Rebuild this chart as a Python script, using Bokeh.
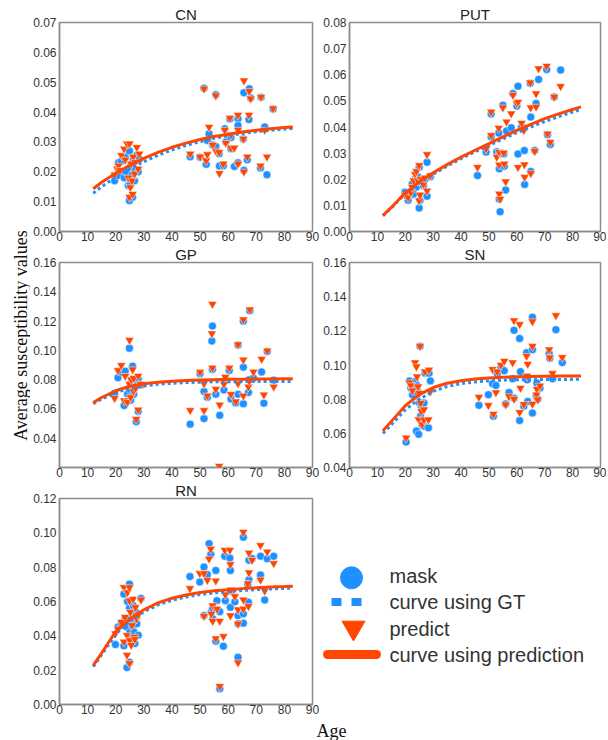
from math import pi
from bokeh.plotting import figure
from bokeh.models import Range1d, FixedTicker, PrintfTickFormatter, Label
from bokeh.layouts import row, column
from bokeh.core.properties import value
from bokeh.embed import file_html
from bokeh.resources import INLINE

BLUE = "#1E90FF"
RED = "#FF4500"
FRAME = "#8c8c8c"
TXT = "#333333"

# ---------------- data ----------------
fit_age = [12, 15, 20, 25, 30, 35, 40, 45, 50, 55, 60, 65, 70, 75, 80, 83]

cn_age = [19.6, 20.5, 21.0, 21.5, 22.0, 23.0, 23.4, 24.0, 24.5, 24.9, 24.9, 25.2, 25.5, 25.8, 26.0, 26.2, 26.7, 27.0, 27.5, 28.4, 28.0,
          46.5, 50.0, 51.4, 52.2, 52.6, 53.2, 54.5, 55.6, 55.6, 56.9, 56.8, 58.3, 58.8, 59.2, 60.6, 61.0, 61.0, 62.2, 63.5, 63.5, 63.5,
          65.4, 65.6, 65.6, 66.8, 67.4, 67.5, 68.0, 71.7, 71.5, 73.0, 73.8, 76.0]
cn_mask = [0.0170, 0.0187, 0.0230, 0.0200, 0.0235, 0.0180, 0.0250, 0.0200, 0.0154, 0.0104, 0.0270, 0.0160, 0.0220, 0.0190, 0.0115, 0.0240, 0.0170, 0.0205, 0.0255, 0.0243, 0.0200,
           0.0250, 0.0249, 0.0480, 0.0225, 0.0305, 0.0327, 0.0290, 0.0458, 0.0285, 0.0219, 0.0260, 0.0220, 0.0344, 0.0300, 0.0377, 0.0315, 0.0277, 0.0218, 0.0378, 0.0355, 0.0230,
           0.0310, 0.0465, 0.0205, 0.0240, 0.0375, 0.0478, 0.0447, 0.0450, 0.0213, 0.0350, 0.0190, 0.0410]
cn_pred = [0.0190, 0.0210, 0.0220, 0.0205, 0.0255, 0.0277, 0.0240, 0.0294, 0.0180, 0.0115, 0.0294, 0.0148, 0.0227, 0.0170, 0.0125, 0.0250, 0.0193, 0.0232, 0.0282, 0.0260, 0.0210,
           0.0260, 0.0250, 0.0478, 0.0238, 0.0258, 0.0350, 0.0290, 0.0455, 0.0270, 0.0195, 0.0265, 0.0227, 0.0340, 0.0296, 0.0380, 0.0324, 0.0280, 0.0280, 0.0390, 0.0340, 0.0227,
           0.0310, 0.0505, 0.0200, 0.0250, 0.0390, 0.0470, 0.0445, 0.0450, 0.0220, 0.0340, 0.0250, 0.0412]
cn_fit_gt = [0.0128, 0.0150, 0.0182, 0.0210, 0.0234, 0.0255, 0.0273, 0.0288, 0.0301, 0.0312, 0.0321, 0.0328, 0.0334, 0.0339, 0.0343, 0.0345]
cn_fit_pred = [0.0143, 0.0165, 0.0195, 0.0222, 0.0245, 0.0265, 0.0282, 0.0296, 0.0308, 0.0318, 0.0326, 0.0333, 0.0339, 0.0344, 0.0348, 0.0350]

put_age = [19.9, 21.0, 22.0, 22.5, 23.0, 23.5, 24.0, 24.5, 25.0, 25.0, 25.3, 25.5, 26.0, 26.5, 27.0, 27.8, 27.8, 29.0,
           45.9, 49.0, 50.8, 50.8, 52.8, 53.5, 53.7, 53.7, 53.7, 54.0, 55.0, 55.3, 55.5, 56.0, 56.3, 58.0, 58.6, 60.0, 60.4, 60.4,
           61.7, 62.5, 62.7, 62.8, 64.8, 65.0, 65.0, 66.4, 66.9, 66.9, 67.8, 70.7, 71.0, 72.0, 73.4, 75.7]
put_mask = [0.0150, 0.0120, 0.0140, 0.0182, 0.0144, 0.0200, 0.0170, 0.0210, 0.0246, 0.0090, 0.0120, 0.0188, 0.0195, 0.0175, 0.0200, 0.0265, 0.0135, 0.0210,
            0.0214, 0.0304, 0.0450, 0.0362, 0.0305, 0.0377, 0.0297, 0.0240, 0.0124, 0.0076, 0.0483, 0.0297, 0.0250, 0.0159, 0.0385, 0.0397, 0.0528, 0.0480, 0.0556, 0.0297,
            0.0400, 0.0395, 0.0310, 0.0180, 0.0567, 0.0438, 0.0230, 0.0310, 0.0487, 0.0490, 0.0582, 0.0620, 0.0370, 0.0333, 0.0515, 0.0618]
put_pred = [0.0140, 0.0130, 0.0150, 0.0170, 0.0195, 0.0220, 0.0230, 0.0195, 0.0253, 0.0118, 0.0140, 0.0200, 0.0190, 0.0180, 0.0205, 0.0295, 0.0156, 0.0214,
            0.0246, 0.0317, 0.0458, 0.0368, 0.0285, 0.0396, 0.0304, 0.0255, 0.0144, 0.0124, 0.0474, 0.0301, 0.0259, 0.0191, 0.0420, 0.0451, 0.0522, 0.0490, 0.0495, 0.0246,
            0.0415, 0.0387, 0.0256, 0.0208, 0.0570, 0.0474, 0.0223, 0.0307, 0.0477, 0.0528, 0.0624, 0.0633, 0.0374, 0.0342, 0.0515, 0.0556]
put_fit_gt = [0.0060, 0.0090, 0.0145, 0.0186, 0.0220, 0.0250, 0.0279, 0.0305, 0.0330, 0.0354, 0.0378, 0.0400, 0.0421, 0.0440, 0.0457, 0.0467]
put_fit_pred = [0.0062, 0.0092, 0.0148, 0.0190, 0.0225, 0.0256, 0.0285, 0.0311, 0.0336, 0.0362, 0.0387, 0.0410, 0.0432, 0.0450, 0.0467, 0.0477]

gp_age = [19.6, 20.8, 22.0, 23.0, 23.4, 24.2, 24.9, 24.9, 25.3, 25.5, 26.0, 26.4, 26.4, 27.0, 27.3, 28.0, 28.0, 29.0,
          46.5, 50.0, 51.4, 51.4, 52.6, 54.4, 54.2, 54.4, 55.6, 57.0, 56.8, 58.5, 59.0, 60.4, 61.0, 62.7, 63.5, 63.5,
          65.4, 65.4, 65.4, 67.2, 67.7, 67.5, 69.0, 71.9, 72.7, 73.9, 76.2]
gp_mask = [0.0706, 0.0813, 0.0850, 0.0623, 0.0858, 0.0702, 0.1015, 0.0735, 0.0660, 0.0780, 0.0892, 0.0796, 0.0700, 0.0750, 0.0512, 0.0583, 0.0803, 0.0764,
           0.0496, 0.0840, 0.0719, 0.0534, 0.0679, 0.1166, 0.1064, 0.0870, 0.0700, 0.0556, 0.0180, 0.0729, 0.0796, 0.0863, 0.0668, 0.0640, 0.0700, 0.1037,
           0.1198, 0.0885, 0.0635, 0.0713, 0.1270, 0.0800, 0.0810, 0.0853, 0.0639, 0.0992, 0.0796]
gp_pred = [0.0673, 0.0863, 0.0898, 0.0657, 0.0824, 0.0646, 0.1070, 0.0769, 0.0680, 0.0800, 0.0869, 0.0810, 0.0720, 0.0740, 0.0530, 0.0594, 0.0825, 0.0770,
           0.0590, 0.0851, 0.0773, 0.0590, 0.0690, 0.1316, 0.1115, 0.0880, 0.0735, 0.0628, 0.0210, 0.0770, 0.0818, 0.0880, 0.0700, 0.0650, 0.0773, 0.1040,
           0.1210, 0.0936, 0.0690, 0.0751, 0.1278, 0.0790, 0.0853, 0.0940, 0.0697, 0.0997, 0.0751]
gp_fit_gt = [0.0635, 0.0668, 0.0712, 0.0740, 0.0757, 0.0768, 0.0775, 0.0780, 0.0783, 0.0785, 0.0786, 0.0787, 0.0787, 0.0788, 0.0788, 0.0788]
gp_fit_pred = [0.0643, 0.0678, 0.0724, 0.0755, 0.0772, 0.0782, 0.0789, 0.0794, 0.0798, 0.0800, 0.0802, 0.0803, 0.0804, 0.0805, 0.0806, 0.0806]

sn_age = [20.3, 21.5, 22.0, 22.6, 23.5, 24.0, 24.2, 24.6, 24.8, 25.0, 25.3, 25.5, 25.8, 26.0, 26.7, 26.7, 27.1, 28.3, 28.5, 29.0,
          46.4, 49.8, 51.3, 51.6, 52.5, 53.0, 54.3, 55.5, 56.0, 57.2, 58.5, 59.0, 59.0, 61.0, 61.3, 61.0, 62.5, 63.5, 63.7, 63.9,
          65.6, 65.6, 65.6, 67.2, 67.0, 67.5, 68.3, 71.6, 71.8, 72.8, 74.0, 76.3]
sn_mask = [0.0549, 0.0907, 0.0865, 0.0826, 0.0903, 0.0613, 0.0880, 0.0840, 0.0594, 0.0780, 0.1110, 0.0700, 0.0760, 0.0650, 0.0777, 0.0642, 0.0952, 0.0632, 0.0952, 0.0907,
           0.0764, 0.0826, 0.0890, 0.0700, 0.0880, 0.0950, 0.0985, 0.0967, 0.0772, 0.0839, 0.0920, 0.1203, 0.0806, 0.1155, 0.0961, 0.0675, 0.0758, 0.1072, 0.0913, 0.0787,
           0.1280, 0.1090, 0.0719, 0.0894, 0.0816, 0.0800, 0.0865, 0.1068, 0.1040, 0.0920, 0.1207, 0.1014]
sn_pred = [0.0574, 0.0897, 0.0880, 0.0850, 0.1014, 0.0990, 0.0932, 0.0874, 0.0680, 0.0835, 0.1110, 0.0777, 0.0729, 0.0652, 0.0739, 0.0680, 0.0961, 0.0680, 0.0971, 0.0845,
           0.0812, 0.0764, 0.0975, 0.0713, 0.0839, 0.0961, 0.1000, 0.1023, 0.0768, 0.0816, 0.1014, 0.1260, 0.0801, 0.1238, 0.0865, 0.0723, 0.0770, 0.1052, 0.0936, 0.1006,
           0.1255, 0.1110, 0.0772, 0.0859, 0.0826, 0.0797, 0.0878, 0.1090, 0.1043, 0.0951, 0.1290, 0.1045]
sn_fit_gt = [0.0600, 0.0650, 0.0738, 0.0800, 0.0845, 0.0874, 0.0891, 0.0901, 0.0907, 0.0911, 0.0913, 0.0914, 0.0915, 0.0915, 0.0916, 0.0916]
sn_fit_pred = [0.0615, 0.0670, 0.0762, 0.0826, 0.0868, 0.0893, 0.0908, 0.0918, 0.0924, 0.0928, 0.0931, 0.0933, 0.0934, 0.0935, 0.0935, 0.0935]

rn_age = [19.9, 20.8, 22.0, 22.9, 22.9, 23.3, 24.0, 24.0, 24.2, 24.9, 24.9, 24.9, 25.0, 25.2, 25.5, 25.8, 26.2, 26.5, 26.8, 27.0, 27.5, 28.0, 29.0,
          46.4, 49.9, 51.4, 51.4, 52.6, 53.2, 53.8, 54.0, 54.5, 54.5, 55.6, 55.6, 56.0, 57.0, 57.0, 58.3, 58.8, 59.0, 60.6, 60.8, 60.8, 61.0,
          62.4, 63.5, 63.5, 63.5, 65.4, 65.4, 65.4, 67.2, 67.4, 67.4, 67.0, 68.5, 71.5, 71.5, 73.0, 73.9, 76.2]
rn_mask = [0.0349, 0.0451, 0.0470, 0.0643, 0.0342, 0.0499, 0.0215, 0.0451, 0.0600, 0.0701, 0.0246, 0.0560, 0.0420, 0.0500, 0.0380, 0.0460, 0.0576, 0.0422, 0.0355, 0.0540, 0.0470, 0.0403, 0.0618,
           0.0745, 0.0714, 0.0801, 0.0518, 0.0758, 0.0937, 0.0874, 0.0538, 0.0560, 0.0500, 0.0781, 0.0369, 0.0605, 0.0541, 0.0092, 0.0340, 0.0864, 0.0605, 0.0854, 0.0781, 0.0566, 0.0660,
           0.0599, 0.0518, 0.0470, 0.0275, 0.0975, 0.0474, 0.0528, 0.0595, 0.0841, 0.0726, 0.0700, 0.0850, 0.0864, 0.0755, 0.0609, 0.0849, 0.0864]
rn_pred = [0.0413, 0.0441, 0.0480, 0.0682, 0.0365, 0.0509, 0.0288, 0.0403, 0.0653, 0.0682, 0.0240, 0.0605, 0.0374, 0.0538, 0.0346, 0.0461, 0.0614, 0.0394, 0.0380, 0.0566, 0.0499, 0.0522, 0.0610,
           0.0676, 0.0764, 0.0764, 0.0515, 0.0724, 0.0849, 0.0906, 0.0528, 0.0576, 0.0486, 0.0720, 0.0384, 0.0557, 0.0486, 0.0106, 0.0397, 0.0899, 0.0640, 0.0899, 0.0816, 0.0518, 0.0668,
           0.0630, 0.0553, 0.0470, 0.0244, 0.1004, 0.0610, 0.0557, 0.0572, 0.0883, 0.0768, 0.0705, 0.0841, 0.0927, 0.0726, 0.0662, 0.0889, 0.0822]
rn_fit_gt = [0.0220, 0.0290, 0.0410, 0.0485, 0.0540, 0.0580, 0.0607, 0.0626, 0.0640, 0.0650, 0.0658, 0.0664, 0.0669, 0.0673, 0.0676, 0.0678]
rn_fit_pred = [0.0228, 0.0300, 0.0425, 0.0498, 0.0552, 0.0592, 0.0619, 0.0638, 0.0652, 0.0662, 0.0669, 0.0675, 0.0680, 0.0684, 0.0687, 0.0689]

x_ticks = [0, 10, 20, 30, 40, 50, 60, 70, 80, 90]
legend_labels = ["mask", "curve using GT", "predict", "curve using prediction"]
y_label = "Average susceptibility values"
x_label = "Age"

LEFT_W, RIGHT_W = 290, 286


def panel(name, ages, mask, pred, yrange, yticks, fit_gt, fit_pred, left, height, top, bottom):
    w = LEFT_W if left else RIGHT_W
    p = figure(width=w, height=height, x_range=Range1d(0, 90), y_range=Range1d(*yrange),
               output_backend="svg", toolbar_location=None,
               min_border_left=28 if left else 27, min_border_right=8 if left else 6,
               min_border_top=top, min_border_bottom=bottom)
    p.title.text = name
    p.title.align = "center"
    p.title.text_font = "Liberation Sans"
    p.title.text_font_size = "15px"
    p.title.text_font_style = "normal"
    p.title.text_color = "#222222"
    p.title.text_line_height = 0.8
    p.title.standoff = 0
    p.title.offset = 0
    p.background_fill_color = "white"
    p.border_fill_color = "white"
    p.xgrid.visible = False
    p.ygrid.visible = False
    p.outline_line_color = FRAME
    p.outline_line_width = 1.5
    p.xaxis.ticker = FixedTicker(ticks=x_ticks)
    p.yaxis.ticker = FixedTicker(ticks=yticks)
    p.yaxis.formatter = PrintfTickFormatter(format="%.2f")
    for ax in (p.xaxis[0], p.yaxis[0]):
        ax.axis_line_color = FRAME
        ax.axis_line_width = 1.5
        ax.major_tick_line_color = None
        ax.minor_tick_line_color = None
        ax.major_tick_out = 0
        ax.major_tick_in = 0
        ax.major_label_text_font = "Liberation Sans"
        ax.major_label_text_font_size = "12px"
        ax.major_label_text_color = TXT
    p.xaxis.major_label_standoff = 0
    p.yaxis.major_label_standoff = 3

    p.scatter(ages, mask, marker="circle", size=8, fill_color=BLUE, line_color="white", line_width=0.5)
    p.scatter(ages, pred, marker="inverted_triangle", size=9, fill_color=RED, line_color="white", line_width=0.5)
    p.line(fit_age, fit_gt, line_color=BLUE, line_width=3, line_dash="3 3")
    p.line(fit_age, fit_pred, line_color=RED, line_width=3)
    return p


H1, H2, H3 = 243, 236, 239
cn = panel("CN", cn_age, cn_mask, cn_pred, (0, 0.07), [0, 0.01, 0.02, 0.03, 0.04, 0.05, 0.06, 0.07],
           cn_fit_gt, cn_fit_pred, True, H1, 22, 12)
put = panel("PUT", put_age, put_mask, put_pred, (0, 0.08), [0, 0.01, 0.02, 0.03, 0.04, 0.05, 0.06, 0.07, 0.08],
            put_fit_gt, put_fit_pred, False, H1, 22, 12)
gp = panel("GP", gp_age, gp_mask, gp_pred, (0.02, 0.16), [0.04, 0.06, 0.08, 0.10, 0.12, 0.14, 0.16],
           gp_fit_gt, gp_fit_pred, True, H2, 14, 12)
sn = panel("SN", sn_age, sn_mask, sn_pred, (0.04, 0.16), [0.04, 0.06, 0.08, 0.10, 0.12, 0.14, 0.16],
           sn_fit_gt, sn_fit_pred, False, H2, 14, 12)
rn = panel("RN", rn_age, rn_mask, rn_pred, (0, 0.12), [0, 0.02, 0.04, 0.06, 0.08, 0.10, 0.12],
           rn_fit_gt, rn_fit_pred, True, H3, 14, 14)

# legend panel (pixel coordinate space, y downwards)
LW, LH = RIGHT_W, H3
leg = figure(width=LW, height=LH, x_range=Range1d(0, LW), y_range=Range1d(LH, 0),
             output_backend="svg", toolbar_location=None, min_border=0,
             x_axis_location=None, y_axis_location=None)
leg.outline_line_color = None
leg.xgrid.visible = False
leg.ygrid.visible = False
leg.scatter([31], [92], marker="circle", size=22, fill_color=BLUE, line_color=BLUE)
leg.line([11, 42], [120, 120], line_color=BLUE, line_width=8, line_dash="10 10")
leg.scatter([33], [150], marker="inverted_triangle", size=23, fill_color=RED, line_color=RED)
leg.line([7, 56], [181, 181], line_color=RED, line_width=9, line_cap="round")
leg.text(x=[69] * 4, y=[90, 120, 151, 181], text=legend_labels, text_font=value("Liberation Sans"),
         text_font_size="20px", text_color=TXT, text_baseline="middle", text_align="left")

# y label strip
YW, YH = 30, H1 + H2 + H3
ylab = figure(width=YW, height=YH, x_range=Range1d(0, YW), y_range=Range1d(0, YH),
              output_backend="svg", toolbar_location=None, min_border=0,
              x_axis_location=None, y_axis_location=None)
ylab.outline_line_color = None
ylab.xgrid.visible = False
ylab.ygrid.visible = False
ylab.add_layout(Label(x=20, y=YH - 335, text=y_label, angle=pi / 2, text_align="center",
                      text_baseline="middle", text_font="Liberation Serif", text_font_size="18px",
                      text_color="#111111"))

# x label strip
AW, AH = YW + LEFT_W + RIGHT_W, 740 - YH
agefig = figure(width=AW, height=AH, x_range=Range1d(0, AW), y_range=Range1d(0, AH),
                output_backend="svg", toolbar_location=None, min_border=0,
                x_axis_location=None, y_axis_location=None)
agefig.outline_line_color = None
agefig.xgrid.visible = False
agefig.ygrid.visible = False
agefig.add_layout(Label(x=331, y=10, text=x_label, text_align="center", text_baseline="middle",
                        text_font="Liberation Serif", text_font_size="18px", text_color="#111111"))

layout = column(row(ylab, column(row(cn, put), row(gp, sn), row(rn, leg))), agefig)

open("out.html", "w").write(file_html(layout, INLINE))
